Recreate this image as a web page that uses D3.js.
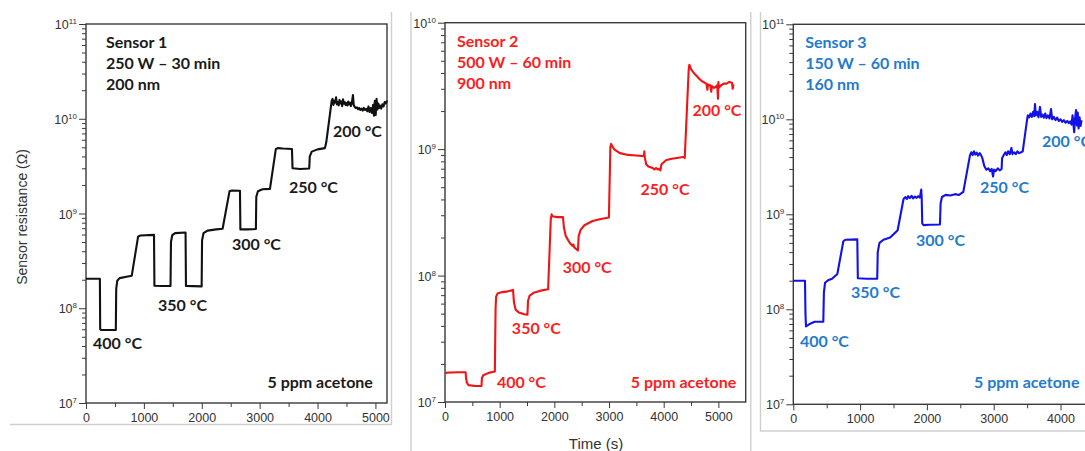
<!DOCTYPE html>
<html><head><meta charset="utf-8">
<script src="https://cdn.jsdelivr.net/npm/d3@7"></script>
<style>
  body { margin: 0; background: #fff; }
  svg { display: block; }
  .tick text { font-family: "Liberation Sans", Arial, sans-serif; }
</style>
</head><body>
<svg id="chart" width="1085" height="451"></svg>
<script>
// ---- data -------------------------------------------------------------
const timeTicks = [0, 1000, 2000, 3000, 4000, 5000];
const sensorNames = ["Sensor 1", "Sensor 2", "Sensor 3"];
const sensorRecipes = ["250 W \u2013 30 min", "500 W \u2013 60 min", "150 W \u2013 60 min"];
const sensorThickness = ["200 nm", "900 nm", "160 nm"];
const temperatureLabels = ["400 \u00b0C", "350 \u00b0C", "300 \u00b0C", "250 \u00b0C", "200 \u00b0C"];
const gasLabel = "5 ppm acetone";
const yAxisTitle = "Sensor resistance (\u03a9)";
const xAxisTitle = "Time (s)";

// resistance traces: [time (s), resistance (ohm)]
const sensor1Trace = [
  [0, 2.05e8], [240, 2.05e8], [245, 6.0e7], [260, 5.9e7], [515, 5.9e7], [522, 1.6e8], [540, 1.95e8],
  [580, 2.08e8], [700, 2.15e8], [790, 2.2e8], [900, 5.7e8], [940, 5.85e8], [1175, 5.95e8],
  [1182, 1.73e8], [1300, 1.72e8], [1460, 1.72e8], [1468, 5.0e8], [1490, 5.9e8], [1540, 6.2e8],
  [1720, 6.3e8], [1727, 1.72e8], [1850, 1.71e8], [1998, 1.7e8], [2005, 5.2e8], [2030, 6.2e8],
  [2100, 6.6e8], [2250, 6.8e8], [2360, 6.9e8], [2480, 1.72e9], [2520, 1.75e9], [2660, 1.74e9],
  [2667, 6.8e8], [2800, 6.8e8], [2935, 6.85e8], [2942, 1.5e9], [2970, 1.72e9], [3050, 1.8e9],
  [3178, 1.82e9], [3280, 4.8e9], [3320, 4.9e9], [3400, 4.85e9], [3558, 4.8e9], [3568, 3.0e9],
  [3700, 2.95e9], [3856, 2.98e9], [3866, 4.0e9], [3900, 4.5e9], [4000, 4.75e9], [4128, 4.9e9],
  [4150, 5.6e9], [4245, 1.55e10], [4260, 1.62e10], [4275, 1.4e10], [4290, 1.55e10], [4305, 1.48e10],
  [4320, 1.68e10], [4335, 1.42e10], [4350, 1.5e10], [4365, 1.38e10], [4380, 1.58e10], [4395, 1.45e10],
  [4410, 1.52e10], [4425, 1.36e10], [4440, 1.6e10], [4455, 1.44e10], [4470, 1.5e10], [4485, 1.4e10],
  [4500, 1.46e10], [4515, 1.38e10], [4530, 1.52e10], [4545, 1.42e10], [4560, 1.48e10], [4575, 1.36e10],
  [4590, 1.44e10], [4612, 1.78e10], [4625, 1.4e10], [4640, 1.34e10], [4660, 1.3e10], [4680, 1.32e10],
  [4700, 1.26e10], [4720, 1.3e10], [4740, 1.24e10], [4760, 1.28e10], [4780, 1.22e10], [4800, 1.3e10],
  [4820, 1.24e10], [4840, 1.27e10], [4860, 1.2e10], [4880, 1.35e10], [4900, 1.18e10], [4920, 1.3e10],
  [4940, 1.15e10], [4960, 1.4e10], [4975, 1.08e10], [4990, 1.55e10], [5005, 1.1e10], [5020, 1.62e10],
  [5035, 1.25e10], [5050, 1.45e10], [5065, 1.3e10], [5080, 1.38e10], [5100, 1.28e10], [5120, 1.42e10],
  [5140, 1.35e10], [5160, 1.5e10], [5180, 1.45e10], [5200, 1.55e10]
];

const sensor2Trace = [
  [0, 1.7e7], [100, 1.71e7], [250, 1.72e7], [377, 1.72e7], [385, 1.55e7], [400, 1.42e7], [430, 1.36e7],
  [550, 1.34e7], [668, 1.34e7], [675, 1.55e7], [700, 1.63e7], [800, 1.7e7], [912, 1.74e7],
  [925, 5.5e7], [935, 6.8e7], [960, 7.2e7], [1050, 7.4e7], [1150, 7.5e7], [1245, 7.7e7],
  [1260, 6.2e7], [1290, 5.4e7], [1350, 5.1e7], [1450, 4.95e7], [1508, 4.9e7], [1518, 6.3e7],
  [1545, 6.9e7], [1620, 7.3e7], [1750, 7.6e7], [1886, 7.8e7], [1935, 2.8e8], [1950, 3.05e8],
  [1965, 2.95e8], [2050, 2.9e8], [2158, 2.9e8], [2175, 2.4e8], [2210, 2.05e8], [2280, 1.82e8],
  [2330, 1.72e8], [2350, 1.76e8], [2360, 1.68e8], [2432, 1.58e8], [2445, 2.05e8], [2480, 2.3e8],
  [2550, 2.5e8], [2700, 2.7e8], [2850, 2.8e8], [2998, 2.88e8], [3025, 1.05e9], [3040, 1.1e9],
  [3060, 1.05e9], [3100, 9.9e8], [3200, 9.3e8], [3350, 9.0e8], [3500, 8.9e8], [3640, 8.8e8],
  [3645, 9.6e8], [3655, 8.6e8], [3680, 7.6e8], [3720, 7.3e8], [3800, 7.1e8], [3830, 6.9e8],
  [3860, 7.1e8], [3890, 6.9e8], [3920, 7.0e8], [3940, 6.8e8], [3960, 7.6e8], [3990, 7.8e8],
  [4050, 8.2e8], [4150, 8.4e8], [4300, 8.6e8], [4375, 8.7e8], [4385, 8.5e8], [4458, 4.3e9],
  [4470, 4.65e9], [4500, 4.3e9], [4550, 4.0e9], [4600, 3.8e9], [4650, 3.6e9], [4700, 3.45e9],
  [4750, 3.35e9], [4780, 3.3e9], [4800, 2.95e9], [4810, 3.25e9], [4850, 3.2e9], [4870, 2.85e9],
  [4880, 3.15e9], [4920, 3.05e9], [4950, 3.1e9], [4980, 3.2e9], [4993, 2.5e9], [5000, 3.4e9],
  [5010, 3.05e9], [5050, 3.2e9], [5100, 3.3e9], [5150, 3.3e9], [5200, 3.4e9], [5250, 3.35e9],
  [5262, 3.0e9], [5275, 3.25e9]
];

const sensor3Trace = [
  [0, 2.0e8], [100, 2.0e8], [175, 2.0e8], [182, 9.0e7], [190, 6.6e7], [220, 6.8e7], [260, 7.1e7],
  [320, 7.4e7], [449, 7.4e7], [458, 1.5e8], [475, 1.9e8], [520, 2.02e8], [580, 2.1e8], [659, 2.35e8],
  [749, 5.2e8], [780, 5.4e8], [958, 5.45e8], [966, 2.12e8], [1100, 2.1e8], [1256, 2.1e8],
  [1264, 4.0e8], [1290, 5.0e8], [1350, 5.4e8], [1450, 5.7e8], [1562, 6.8e8], [1650, 1.45e9],
  [1680, 1.52e9], [1700, 1.45e9], [1720, 1.55e9], [1745, 1.48e9], [1770, 1.56e9], [1795, 1.47e9],
  [1820, 1.54e9], [1845, 1.49e9], [1870, 1.55e9], [1895, 1.5e9], [1915, 1.82e9], [1922, 1.5e9],
  [1930, 8.0e8], [1950, 7.7e8], [2050, 7.75e8], [2195, 7.8e8], [2205, 1.3e9], [2225, 1.52e9],
  [2280, 1.6e9], [2350, 1.58e9], [2420, 1.63e9], [2480, 1.6e9], [2545, 1.72e9], [2645, 4.2e9],
  [2665, 4.5e9], [2685, 4.2e9], [2705, 4.6e9], [2725, 4.25e9], [2745, 4.45e9], [2765, 4.15e9],
  [2790, 4.4e9], [2810, 4.2e9], [2830, 3.9e9], [2860, 3.2e9], [2890, 2.95e9], [2920, 3.05e9],
  [2945, 2.85e9], [2970, 3.0e9], [2990, 2.5e9], [3005, 2.95e9], [3030, 2.85e9], [3060, 3.05e9],
  [3090, 2.9e9], [3118, 3.0e9], [3125, 3.9e9], [3150, 4.2e9], [3175, 4.5e9], [3195, 4.2e9],
  [3215, 4.6e9], [3240, 4.3e9], [3265, 5.0e9], [3280, 4.3e9], [3305, 4.5e9], [3330, 4.3e9],
  [3355, 4.6e9], [3380, 4.4e9], [3410, 4.5e9], [3434, 4.6e9], [3500, 1.0e10], [3510, 1.1e10],
  [3530, 1.05e10], [3550, 1.15e10], [3570, 1.06e10], [3590, 1.2e10], [3605, 1.08e10], [3618, 1.45e10],
  [3630, 1.1e10], [3650, 1.2e10], [3670, 1.05e10], [3693, 1.35e10], [3710, 1.06e10], [3730, 1.12e10],
  [3750, 1.04e10], [3770, 1.15e10], [3790, 1.03e10], [3810, 1.1e10], [3835, 1.02e10], [3858, 1.28e10],
  [3875, 1.0e10], [3900, 1.06e10], [3925, 9.8e9], [3950, 1.04e10], [3975, 9.6e9], [4000, 1.0e10],
  [4025, 9.4e9], [4050, 9.8e9], [4075, 9.2e9], [4100, 9.6e9], [4125, 9.1e9], [4145, 9.5e9],
  [4165, 8.8e9], [4180, 1.1e10], [4195, 8.5e9], [4205, 7.3e9], [4215, 9.8e9], [4232, 1.25e10],
  [4245, 8.6e9], [4258, 1.18e10], [4270, 8.0e9], [4285, 1.05e10], [4300, 8.5e9], [4315, 9.8e9]
];

// where each temperature label sits: [time, resistance] of its left baseline
const sensor1TempAnchors = [[121, 3.7e7], [1244, 9.35e7], [2522, 4.12e8], [3506, 1.64e9], [4266, 6.4e9]];
const sensor2TempAnchors = [[949, 1.29e7], [1223, 3.44e7], [2153, 1.05e8], [3577, 4.34e8], [4526, 1.83e9]];
const sensor3TempAnchors = [[100, 4.0e7], [864, 1.32e8], [1837, 4.6e8], [2795, 1.68e9], [3723, 5.1e9]];
const gasAnchors = [[4957, 1.44e7, "end"], [5328, 1.29e7, "end"], [2705, 1.49e7, "start"]];

// ---- layout -----------------------------------------------------------
const W = 1085;
const panels = [
  { trace: sensor1Trace, temps: sensor1TempAnchors, left: 86, right: 387, top: 24, bottom: 403,
    tMax: 5200, rMin: 1e7, rMax: 1e11, line: "#111111", text: "#1a1a1a", infoX: 20 },
  { trace: sensor2Trace, temps: sensor2TempAnchors, left: 445, right: 745.7, top: 22.7, bottom: 402,
    tMax: 5500, rMin: 1e7, rMax: 1e10, line: "#f01414", text: "#fa1e1e", infoX: 12 },
  { trace: sensor3Trace, temps: sensor3TempAnchors, left: 793.3, right: 1140.7, top: 24.3, bottom: 404.3,
    tMax: 5200, rMin: 1e7, rMax: 1e11, line: "#1212e8", text: "#1f7bd0", infoX: 12 }
];

const svg = d3.select("#chart");
const axisColor = "#3a3a3a";
const labelFont = "Lato, 'Open Sans', sans-serif";
const tickFont = "'Liberation Sans', Arial, sans-serif";

// panel separators (light grey frame pieces)
const sep = svg.append("g").attr("stroke", "#cfcfcf").attr("stroke-width", 1.4).attr("fill", "none");
sep.append("path").attr("d", "M391.5,12V424.5H10");
sep.append("path").attr("d", "M411,12V451");
sep.append("path").attr("d", "M750.8,12V451");
sep.append("path").attr("d", "M760.5,12V431H1085");

panels.forEach((p, i) => {
  const x = d3.scaleLinear().domain([0, p.tMax]).range([p.left, p.right]);
  const y = d3.scaleLog().domain([p.rMin, p.rMax]).range([p.bottom, p.top]);
  const g = svg.append("g");

  // minor / major ticks on y (log decades)
  const decades = d3.range(Math.log10(p.rMin), Math.log10(p.rMax) + 1).map(e => Math.pow(10, e));
  const minors = [];
  decades.slice(0, -1).forEach(d => { for (let k = 2; k <= 9; k++) minors.push(d * k); });

  const yMinor = g.append("g").attr("transform", `translate(${p.left},0)`)
    .call(d3.axisLeft(y).tickValues(minors).tickSize(4).tickFormat(""));
  const yMajor = g.append("g").attr("transform", `translate(${p.left},0)`)
    .call(d3.axisLeft(y).tickValues(decades).tickSize(7).tickPadding(3).tickFormat(""));
  [yMinor, yMajor].forEach(a => {
    a.select(".domain").remove();
    a.selectAll("line").attr("stroke", axisColor).attr("stroke-width", 1);
  });
  yMajor.selectAll(".tick").append("text")
    .attr("x", -9).attr("dy", "0.36em").attr("text-anchor", "end")
    .attr("fill", "#333").attr("font-family", tickFont).attr("font-size", 12.5)
    .each(function (d) {
      const t = d3.select(this);
      t.append("tspan").text("10");
      t.append("tspan").attr("font-size", 8).attr("dy", -5).text(Math.round(Math.log10(d)));
    });

  // x ticks (only those that fall inside the page)
  const visible = t => t < p.tMax && x(t) < W;
  const xMinor = g.append("g").attr("transform", `translate(0,${p.bottom})`)
    .call(d3.axisBottom(x).tickValues(timeTicks.map(t => t + 500).filter(visible))
      .tickSize(4).tickFormat(""));
  const xMajor = g.append("g").attr("transform", `translate(0,${p.bottom})`)
    .call(d3.axisBottom(x).tickValues(timeTicks.filter(t => x(t) + 16 < W))
      .tickSize(6).tickPadding(4).tickFormat(d3.format("d")));
  [xMinor, xMajor].forEach(a => {
    a.select(".domain").remove();
    a.selectAll("line").attr("stroke", axisColor).attr("stroke-width", 1);
  });
  xMajor.selectAll("text").attr("fill", "#333").attr("font-size", 12.5).attr("font-family", tickFont);

  // plot frame
  g.append("rect")
    .attr("x", p.left).attr("y", p.top)
    .attr("width", p.right - p.left).attr("height", p.bottom - p.top)
    .attr("fill", "none").attr("stroke", axisColor).attr("stroke-width", 1.4);

  // trace
  g.append("path").datum(p.trace)
    .attr("fill", "none").attr("stroke", p.line).attr("stroke-width", 2.1)
    .attr("stroke-linejoin", "round")
    .attr("d", d3.line().x(d => x(d[0])).y(d => y(d[1])));

  // sample description
  const info = [sensorNames[i], sensorRecipes[i], sensorThickness[i]];
  g.append("g").selectAll("text").data(info).join("text")
    .attr("x", p.left + p.infoX).attr("y", (d, k) => p.top + 24 + k * 21)
    .attr("fill", p.text).attr("font-family", labelFont).attr("font-weight", 700)
    .attr("font-size", 16).text(d => d);

  // temperature labels
  g.append("g").selectAll("text").data(p.temps).join("text")
    .attr("x", d => x(d[0])).attr("y", d => y(d[1]))
    .attr("fill", p.text).attr("font-family", labelFont).attr("font-weight", 700)
    .attr("font-size", 16).text((d, k) => temperatureLabels[k]);

  // gas label
  const ga = gasAnchors[i];
  g.append("text").attr("x", x(ga[0])).attr("y", y(ga[1])).attr("text-anchor", ga[2])
    .attr("fill", p.text).attr("font-family", labelFont).attr("font-weight", 700)
    .attr("font-size", 16).text(gasLabel);
});

// axis titles
svg.append("text")
  .attr("transform", "translate(27,217) rotate(-90)")
  .attr("text-anchor", "middle").attr("fill", "#333")
  .attr("font-family", tickFont).attr("font-size", 14).text(yAxisTitle);
svg.append("text")
  .attr("x", 596).attr("y", 449).attr("text-anchor", "middle").attr("fill", "#333")
  .attr("font-family", tickFont).attr("font-size", 15).text(xAxisTitle);
</script>
</body></html>
